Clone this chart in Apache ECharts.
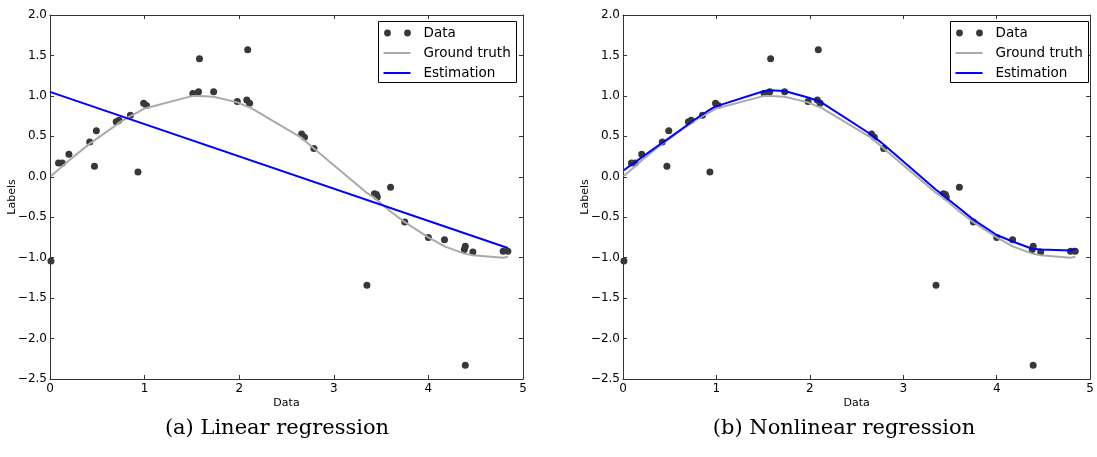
<!DOCTYPE html>
<html>
<head>
<meta charset="utf-8">
<title>Linear and nonlinear regression</title>
<script src="https://cdn.jsdelivr.net/npm/echarts@6/dist/echarts.min.js"></script>
<style>
  html, body { margin: 0; padding: 0; background: #ffffff; }
  #chart { width: 1097px; height: 457px; }
</style>
</head>
<body>
<div id="chart"></div>
<script>
// Noisy samples
const dataX = [0.01, 0.09, 0.13, 0.20, 0.42, 0.47, 0.49, 0.70, 0.73, 0.85, 0.93, 0.99, 1.02,
  1.51, 1.57, 1.58, 1.73, 1.98, 2.08, 2.09, 2.11, 2.66, 2.69, 2.79, 3.35, 3.43, 3.45, 3.46,
  3.60, 3.75, 4.00, 4.17, 4.38, 4.39, 4.39, 4.47, 4.79, 4.84];
const dataY = [-1.04, 0.17, 0.17, 0.28, 0.43, 0.13, 0.57, 0.68, 0.70, 0.76, 0.06, 0.91, 0.88,
  1.03, 1.05, 1.46, 1.05, 0.93, 0.95, 1.57, 0.91, 0.53, 0.49, 0.35, -1.34, -0.21, -0.22, -0.25,
  -0.13, -0.56, -0.75, -0.78, -0.90, -0.86, -2.33, -0.93, -0.92, -0.92];

// Ground truth curve, sampled at the sorted inputs
const curveX = [0.01, 0.09, 0.13, 0.20, 0.42, 0.47, 0.49, 0.70, 0.73, 0.85, 0.93, 0.99, 1.02,
  1.51, 1.57, 1.58, 1.73, 1.98, 2.08, 2.09, 2.11, 2.66, 2.69, 2.79, 3.35, 3.43, 3.45, 3.46,
  3.60, 3.75, 4.00, 4.17, 4.38, 4.39, 4.47, 4.79, 4.84];
const truthY = [0.01, 0.09, 0.13, 0.20, 0.41, 0.45, 0.47, 0.64, 0.67, 0.75, 0.80, 0.84, 0.85,
  1.00, 1.00, 1.00, 0.99, 0.92, 0.87, 0.87, 0.86, 0.48, 0.45, 0.35, -0.20, -0.26, -0.28, -0.29,
  -0.43, -0.56, -0.75, -0.86, -0.95, -0.95, -0.97, -1.00, -0.99];

// Nonlinear fit, evaluated at the same inputs
const nonlinY = [0.08, 0.15, 0.18, 0.24, 0.42, 0.46, 0.48, 0.65, 0.68, 0.77, 0.83, 0.87, 0.88,
  1.06, 1.07, 1.07, 1.06, 0.98, 0.94, 0.94, 0.93, 0.52, 0.49, 0.40, -0.16, -0.23, -0.25, -0.26,
  -0.39, -0.53, -0.72, -0.80, -0.89, -0.89, -0.90, -0.91, -0.89];

// Linear fit endpoints
const linX = [0.0, 4.84];
const linY = [1.05, -0.88];

// Axis ticks
const xTicks = [0, 1, 2, 3, 4, 5];
const yTicks = [-2.5, -2.0, -1.5, -1.0, -0.5, 0.0, 0.5, 1.0, 1.5, 2.0];

const captions = ['(a) Linear regression', '(b) Nonlinear regression'];
const legendNames = ['Data', 'Ground truth', 'Estimation'];

const zip = (xs, ys) => xs.map((x, i) => [x, ys[i]]);

const SANS = 'DejaVu Sans';
const SPINE = '#333333';
const DOT = '#383838';
const GRAY = '#aaaaaa';
const BLUE = '#0000ff';

const grids = [
  { left: 50, top: 15, width: 473, height: 364 },
  { left: 623, top: 15, width: 472, height: 364 }
];

const fmtY = v => v.toFixed(1).replace('-', '\u2212');

function axesFor(g) {
  const line = { show: true, onZero: false, lineStyle: { color: SPINE, width: 1 } };
  const tick = { show: true, inside: true, length: 4, lineStyle: { color: SPINE, width: 1 } };
  const xBase = {
    type: 'value', gridIndex: g, min: xTicks[0], max: xTicks[xTicks.length - 1], interval: 1,
    splitLine: { show: false }, axisLine: line, axisTick: tick
  };
  const yBase = {
    type: 'value', gridIndex: g, min: yTicks[0], max: yTicks[yTicks.length - 1], interval: 0.5,
    splitLine: { show: false }, axisLine: line, axisTick: tick
  };
  return {
    x: [
      Object.assign({}, xBase, {
        position: 'bottom',
        name: 'Data', nameLocation: 'middle', nameGap: 19, nameMoveOverlap: false,
        nameTextStyle: { fontFamily: SANS, fontSize: 11, color: '#000' },
        axisLabel: { fontFamily: SANS, fontSize: 12, color: '#000', margin: 4, formatter: v => String(v) }
      }),
      Object.assign({}, xBase, { position: 'top', axisLabel: { show: false } })
    ],
    y: [
      Object.assign({}, yBase, {
        position: 'left',
        name: 'Labels', nameLocation: 'middle', nameGap: 32, nameRotate: 90, nameMoveOverlap: false,
        nameTextStyle: { fontFamily: SANS, fontSize: 11, color: '#000' },
        axisLabel: { fontFamily: SANS, fontSize: 12, color: '#000', margin: 3, formatter: fmtY }
      }),
      Object.assign({}, yBase, { position: 'right', axisLabel: { show: false } })
    ]
  };
}

const a0 = axesFor(0), a1 = axesFor(1);
const xAxis = [a0.x[0], a0.x[1], a1.x[0], a1.x[1]];
const yAxis = [a0.y[0], a0.y[1], a1.y[0], a1.y[1]];

function panelSeries(xi, yi, estX, estY) {
  return [
    {
      name: legendNames[0], type: 'scatter', xAxisIndex: xi, yAxisIndex: yi,
      data: zip(dataX, dataY), symbolSize: 7,
      itemStyle: { color: DOT, opacity: 1 }, z: 2, silent: true
    },
    {
      name: legendNames[1], type: 'line', xAxisIndex: xi, yAxisIndex: yi,
      data: zip(curveX, truthY), showSymbol: false, symbol: 'none',
      lineStyle: { color: GRAY, width: 2 }, z: 3, silent: true
    },
    {
      name: legendNames[2], type: 'line', xAxisIndex: xi, yAxisIndex: yi,
      data: zip(estX, estY), showSymbol: false, symbol: 'none',
      lineStyle: { color: BLUE, width: 2 }, z: 4, silent: true
    }
  ];
}

const series = [].concat(
  panelSeries(0, 0, linX, linY),
  panelSeries(2, 2, curveX, nonlinY)
);

// Legend box drawn in the top-right corner of each panel
function legendBox(left, top) {
  const w = 138, h = 61;
  const rows = [top + 11.5, top + 31.5, top + 51.5];
  const tx = left + 45;
  const els = [
    { type: 'rect', shape: { x: left, y: top, width: w, height: h },
      style: { fill: '#ffffff', stroke: '#000000', lineWidth: 1 }, z: 10 },
    { type: 'circle', shape: { cx: left + 9, cy: rows[0], r: 3.4 }, style: { fill: DOT }, z: 11 },
    { type: 'circle', shape: { cx: left + 29, cy: rows[0], r: 3.4 }, style: { fill: DOT }, z: 11 },
    { type: 'line', shape: { x1: left + 5, y1: rows[1], x2: left + 32, y2: rows[1] },
      style: { stroke: GRAY, lineWidth: 2 }, z: 11 },
    { type: 'line', shape: { x1: left + 5, y1: rows[2], x2: left + 32, y2: rows[2] },
      style: { stroke: BLUE, lineWidth: 2 }, z: 11 }
  ];
  legendNames.forEach((n, i) => {
    els.push({ type: 'text', x: tx, y: rows[i], z: 11,
      style: { text: n, fontFamily: SANS, fontSize: 13.5, fill: '#000',
        textAlign: 'left', textVerticalAlign: 'middle' } });
  });
  return els;
}

const captionEls = [
  { type: 'text', x: 277, y: 429, style: { text: captions[0], fontFamily: 'DejaVu Serif',
    fontSize: 21, fill: '#000', textAlign: 'center', textVerticalAlign: 'middle' } },
  { type: 'text', x: 844, y: 429, style: { text: captions[1], fontFamily: 'DejaVu Serif',
    fontSize: 21, fill: '#000', textAlign: 'center', textVerticalAlign: 'middle' } }
];

const chart = echarts.init(document.getElementById('chart'), null, { renderer: 'canvas' });
chart.setOption({
  backgroundColor: '#ffffff',
  animation: false,
  grid: grids,
  xAxis: xAxis,
  yAxis: yAxis,
  series: series,
  graphic: [].concat(legendBox(378.5, 21.5), legendBox(950.5, 21.5), captionEls)
});
</script>
</body>
</html>
